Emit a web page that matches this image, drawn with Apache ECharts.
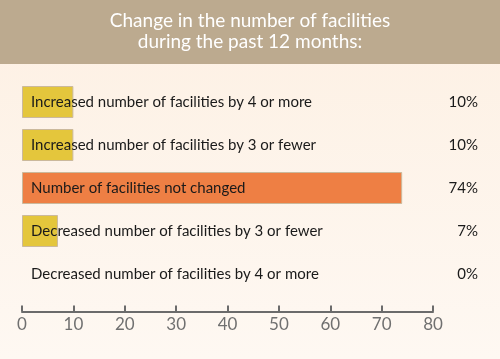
<!DOCTYPE html>
<html><head><meta charset="utf-8">
<script src="https://cdn.jsdelivr.net/npm/echarts@6/dist/echarts.min.js"></script>
<style>html,body{margin:0;padding:0;}#c{width:500px;height:359px;}</style>
</head><body><div id="c"></div>
<script>
var categories = [
  "Increased number of facilities by 4 or more",
  "Increased number of facilities by 3 or fewer",
  "Number of facilities not changed",
  "Decreased number of facilities by 3 or fewer",
  "Decreased number of facilities by 4 or more"
];
var values = [10, 10, 74, 7, 0];
var pctLabels = ["10%", "10%", "74%", "7%", "0%"];
var barColors = ["#E4C63C", "#E4C63C", "#EE7F44", "#E4C63C", "#E4C63C"];
var titleText = "Change in the number of facilities\nduring the past 12 months:";

var chart = echarts.init(document.getElementById('c'));
var FONT = 'Lato';
chart.setOption({
  animation: false,
  graphic: [
    {type: 'rect', z: -10, shape: {x: 0, y: 0, width: 500, height: 359},
     style: {fill: new echarts.graphic.LinearGradient(0, 0, 0, 1, [
       {offset: 0, color: '#FDF0E3'}, {offset: 1, color: '#FEF8F2'}])}},
    {type: 'rect', z: -9, shape: {x: 0, y: 0, width: 500, height: 64},
     style: {fill: '#BCAA8F'}}
  ],
  title: {
    text: titleText, left: 'center', top: 5,
    textStyle: {color: '#ffffff', fontFamily: FONT, fontWeight: 'normal', fontSize: 19, lineHeight: 21}
  },
  grid: {left: 22, right: 67, top: 80.5, height: 215, containLabel: false},
  xAxis: {
    type: 'value', min: 0, max: 80, interval: 10, offset: 16,
    axisLine: {show: true, lineStyle: {color: '#6b6b6b', width: 2}},
    axisTick: {show: true, inside: true, length: 6, lineStyle: {color: '#6b6b6b', width: 2}},
    splitLine: {show: false},
    axisLabel: {color: '#707070', fontFamily: FONT, fontSize: 17, margin: 5}
  },
  yAxis: [{
    type: 'category', data: categories, inverse: true, z: 5,
    axisLine: {show: false}, axisTick: {show: false},
    axisLabel: {inside: true, margin: 9, color: '#1a1a1a', fontFamily: FONT, fontSize: 15}
  }, {
    type: 'category', data: pctLabels, inverse: true, position: 'right',
    axisLine: {show: false}, axisTick: {show: false},
    axisLabel: {margin: 45, align: 'right', color: '#1a1a1a', fontFamily: FONT, fontSize: 15}
  }],
  series: [{
    type: 'bar', barWidth: 32, z: 2,
    data: values.map(function (v, i) {
      return {value: v, itemStyle: {color: barColors[i], borderColor: '#CBB99C', borderWidth: v > 0 ? 1 : 0}};
    })
  }]
});
</script></body></html>
